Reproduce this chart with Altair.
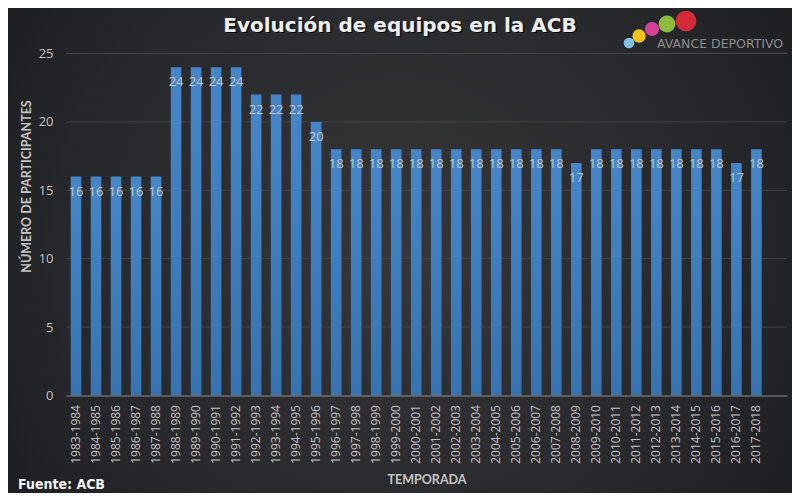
import altair as alt
import pandas as pd

seasons = ["1983-1984", "1984-1985", "1985-1986", "1986-1987", "1987-1988",
           "1988-1989", "1989-1990", "1990-1991", "1991-1992", "1992-1993",
           "1993-1994", "1994-1995", "1995-1996", "1996-1997", "1997-1998",
           "1998-1999", "1999-2000", "2000-2001", "2001-2002", "2002-2003",
           "2003-2004", "2004-2005", "2005-2006", "2006-2007", "2007-2008",
           "2008-2009", "2009-2010", "2010-2011", "2011-2012", "2012-2013",
           "2013-2014", "2014-2015", "2015-2016", "2016-2017", "2017-2018"]
teams = [16, 16, 16, 16, 16,
         24, 24, 24, 24, 22,
         22, 22, 20, 18, 18,
         18, 18, 18, 18, 18,
         18, 18, 18, 18, 18,
         17, 18, 18, 18, 18,
         18, 18, 18, 17, 18]
y_ticks = [0, 5, 10, 15, 20, 25]

title_text = "Evolución de equipos en la ACB"
source_text = "Fuente: ACB"
logo_text = "AVANCE DEPORTIVO"
logo_colors = ["#7ec3e3", "#efc21c", "#d6409a", "#8dbb3d", "#d42b3b"]

df = pd.DataFrame({"temporada": seasons, "equipos": teams})
grid_df = pd.DataFrame({"t": y_ticks[1:]})
one = pd.DataFrame({"a": [0]})

W, H = 721, 342
PL, PT, PR, PB = 58, 45.5, 5, 97.5

yscale = alt.Scale(domain=[0, 25], nice=False)
xscale = alt.Scale(paddingInner=0.47, paddingOuter=0.75, align=0.157)

y_axis = alt.Axis(title="NÚMERO DE PARTICIPANTES", values=y_ticks,
                  grid=False, domain=False, ticks=False, labelPadding=13,
                  labelColor="#c4c4c4", labelFont="Open Sans", labelFontSize=13,
                  titleColor="#c4c4c4", titleFont="Lato", titleFontSize=12.5,
                  titleFontWeight="bold", titleAngle=270, titleX=-39.5, titleY=132.5,
                  titleAlign="center", titleBaseline="middle", zindex=1)

bg = alt.Chart(one).mark_rect(
    fill=alt.Gradient(
        gradient="radial",
        stops=[alt.GradientStop(offset=0, color="#363639"),
               alt.GradientStop(offset=0.55, color="#27282b"),
               alt.GradientStop(offset=1, color="#15161a")],
        x1=0.5, y1=0.5, r1=0, x2=0.5, y2=0.5, r2=0.75),
).encode(x=alt.value(-PL), x2=alt.value(W + PR), y=alt.value(-PT), y2=alt.value(H + PB))

grid = alt.Chart(grid_df).mark_rule(color="#434346", strokeWidth=1).encode(
    y=alt.Y("t:Q", scale=yscale, axis=y_axis),
    x=alt.value(0), x2=alt.value(W),
)

bars = alt.Chart(df).mark_bar(
    color=alt.Gradient(
        gradient="linear",
        stops=[alt.GradientStop(offset=0, color="#4686c8"),
               alt.GradientStop(offset=1, color="#3873b0")],
        x1=0, x2=0, y1=0, y2=1),
).encode(
    x=alt.X("temporada:N", sort=seasons, scale=xscale,
            axis=alt.Axis(title="TEMPORADA", labelAngle=270, labelPadding=9,
                          ticks=False, domain=True, domainColor="#8a8a8a",
                          labelColor="#c4c4c4", labelFont="Open Sans", labelFontSize=12,
                          titleColor="#c4c4c4", titleFont="Lato", titleFontSize=12.5,
                          titleFontWeight="bold", titleY=83.5, titleBaseline="middle",
                          zindex=1)),
    y=alt.Y("equipos:Q", scale=yscale, axis=y_axis),
)

labels = alt.Chart(df).mark_text(
    color="#c6c6c6", font="Open Sans", fontSize=13, baseline="middle", dy=15
).encode(
    x=alt.X("temporada:N", sort=seasons, scale=xscale),
    y=alt.Y("equipos:Q", scale=yscale, axis=y_axis),
    text="equipos:Q",
)

title_shadow = alt.Chart(one).mark_text(
    text=title_text, font="DejaVu Sans", fontSize=20, fontWeight="bold",
    color="#000000", opacity=0.7, align="center", baseline="middle"
).encode(x=alt.value(335.5), y=alt.value(-26.5))

title = alt.Chart(one).mark_text(
    text=title_text, font="DejaVu Sans", fontSize=20, fontWeight="bold",
    color="#eeeeee", align="center", baseline="middle"
).encode(x=alt.value(334), y=alt.value(-28))

source = alt.Chart(one).mark_text(
    text=source_text, font="DejaVu Sans Condensed, sans-serif",
    fontSize=14, fontWeight="bold", color="#f2f2f2", align="left", baseline="alphabetic"
).encode(x=alt.value(-48), y=alt.value(435))

logo_line = alt.Chart(one).mark_rule(color="#2c2c2e", strokeWidth=1).encode(
    x=alt.value(552), x2=alt.value(722), y=alt.value(-1),
)

logo_pts = []
for cx, cy, sz, col in [(563, -10.5, 113, logo_colors[0]), (573, -17.5, 177, logo_colors[1]),
                        (586, -24.5, 201, logo_colors[2]), (601, -29.5, 284, logo_colors[3]),
                        (620, -32.5, 430, logo_colors[4])]:
    logo_pts.append(
        alt.Chart(one).mark_circle(color=col, opacity=1, size=sz).encode(
            x=alt.value(cx), y=alt.value(cy))
    )

logo_txt = alt.Chart(one).mark_text(
    text=logo_text, font="DejaVu Sans", fontSize=12.5, color="#8c8c8c",
    align="left", baseline="middle"
).encode(x=alt.value(591), y=alt.value(-9.5))

chart = alt.layer(
    bg, grid, bars, labels, title_shadow, title, source, logo_line, *logo_pts, logo_txt
).properties(
    width=W, height=H,
    autosize=alt.AutoSizeParams(type="none"),
    padding={"left": PL, "top": PT, "right": PR, "bottom": PB},
    background="#1a1a1b",
).configure_view(stroke=None)

chart.save("out.html", embed_options={"renderer": "svg", "actions": False})
